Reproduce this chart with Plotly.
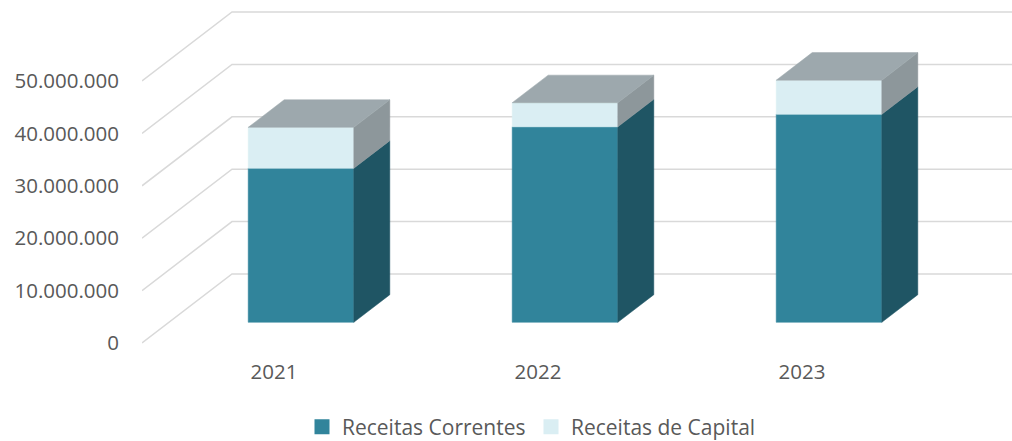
import plotly.graph_objects as go

# ---- data ----
years = ["2021", "2022", "2023"]
receitas_correntes = [29.4e6, 37.3e6, 39.7e6]
receitas_capital = [7.8e6, 4.6e6, 6.5e6]
y_tick_values = [0, 10e6, 20e6, 30e6, 40e6, 50e6]
series_names = ["Receitas Correntes", "Receitas de Capital"]

# ---- styling / projection ----
FRONT = ["#31849B", "#DAEEF3"]
SIDE = ["#1F5564", "#8D979B"]
TOP = "#9DA8AD"
GRID = "#D9D9D9"
TEXT = "#595959"
FONT = "Open Sans"

PX_PER_CAT = 264.0
PX_PER_UNIT = 262.0 / 50e6
DEPTH_PX_X = 90.0
DEPTH_PX_Y = 69.0
DX = DEPTH_PX_X / PX_PER_CAT          # category units per unit of depth
DY = DEPTH_PX_Y / PX_PER_UNIT         # value units per unit of depth
HW = 0.2
D0, D1 = 0.3, 0.7


def P(x, v, d):
    return x + d * DX, v + d * DY


def poly(points):
    xs, ys = [], []
    for p in points:
        px, py = P(*p)
        xs.append(px)
        ys.append(py)
    xs.append(xs[0])
    ys.append(ys[0])
    return xs, ys


fig = go.Figure()

# gridlines (floor-to-back-wall style)
gx, gy = [], []
for v in y_tick_values:
    for pt in [(-0.5, v, 0), (-0.5, v, 1), (4.0, v, 1)]:
        px, py = P(*pt)
        gx.append(px)
        gy.append(py)
    gx.append(None)
    gy.append(None)
fig.add_trace(go.Scatter(x=gx, y=gy, mode="lines", line=dict(color=GRID, width=1.5),
                         hoverinfo="skip", showlegend=False))


def face(points, color):
    xs, ys = poly(points)
    fig.add_trace(go.Scatter(x=xs, y=ys, mode="lines", fill="toself", fillcolor=color,
                             line=dict(color=color, width=0.5), hoverinfo="skip",
                             showlegend=False))


for i, year in enumerate(years):
    segs = [(0, receitas_correntes[i]),
            (receitas_correntes[i], receitas_correntes[i] + receitas_capital[i])]
    for s, (v0, v1) in enumerate(segs):
        face([(i - HW, v0, D0), (i + HW, v0, D0), (i + HW, v1, D0), (i - HW, v1, D0)], FRONT[s])
        face([(i + HW, v0, D0), (i + HW, v0, D1), (i + HW, v1, D1), (i + HW, v1, D0)], SIDE[s])
    top = segs[-1][1]
    face([(i - HW, top, D0), (i + HW, top, D0), (i + HW, top, D1), (i - HW, top, D1)], TOP)

# legend entries
for s, name in enumerate(series_names):
    fig.add_trace(go.Scatter(x=[None], y=[None], mode="markers", name=name,
                             marker=dict(symbol="square", size=15, color=FRONT[s],
                                         line=dict(width=0))))

H_PLOT = 360
PLOT_W = 870
fig.update_layout(
    width=1012, height=441,
    margin=dict(l=142, r=0, t=0, b=441 - H_PLOT, autoexpand=False),
    paper_bgcolor="white", plot_bgcolor="white",
    separators=",.",
    font=dict(family=FONT, size=20.5, color=TEXT),
    xaxis=dict(range=[-0.5, -0.5 + PLOT_W / PX_PER_CAT], tickvals=list(range(len(years))),
               ticktext=years, showgrid=False, zeroline=False, showline=False,
               ticks="", ticklabelstandoff=-3, fixedrange=True, automargin=False),
    yaxis=dict(range=[-17 / PX_PER_UNIT, 343 / PX_PER_UNIT], tickvals=y_tick_values,
               tickformat=",d", showgrid=False, zeroline=False, showline=False,
               ticks="", ticklabelstandoff=22, fixedrange=True, automargin=False),
    legend=dict(orientation="h", x=(302 - 142) / PLOT_W, xanchor="left",
                y=(H_PLOT - 427) / H_PLOT, yanchor="middle",
                entrywidth=184, entrywidthmode="pixels",
                font=dict(family=FONT, size=21, color=TEXT)),
    showlegend=True,
)

fig.write_html("out.html", config={"displayModeBar": False},
               post_script="document.body.style.margin='0';document.body.style.overflow='hidden';")
